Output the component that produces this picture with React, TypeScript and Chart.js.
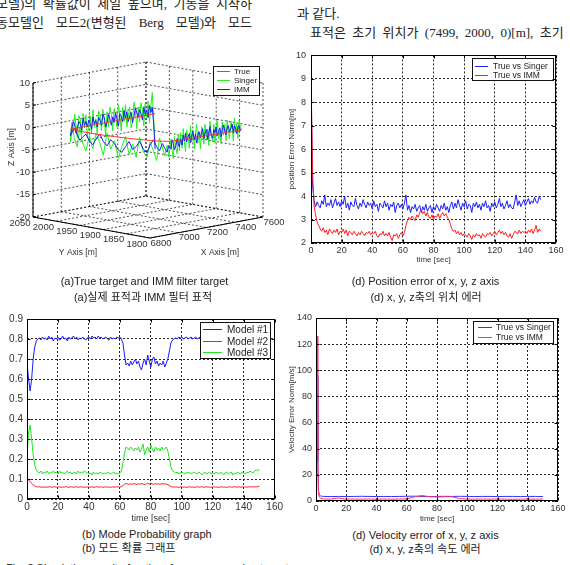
import React, { useEffect, useRef } from "react";
import { Chart, registerables } from "chart.js";
Chart.register(...registerables);

const FONT = "'Liberation Sans', Arial, Helvetica, sans-serif";
const CJK = "'Liberation Sans', 'Noto Sans CJK KR', sans-serif";
const SERIF_CJK = "'Liberation Serif', 'Noto Sans CJK KR', serif";

const BLUE = "#1c1cff";
const RED = "#ff1f1f";
const GREEN = "#1fe61f";

// ---------- data ----------
const SAMPLE_STEP = 1; // seconds between samples
const timeTicks = [0, 20, 40, 60, 80, 100, 120, 140, 160];

const posSinger = [
  8.9, 4.5, 3.8, 3.55, 3.75, 3.6, 3.5, 3.8, 3.65, 4.05,
  3.55, 3.7, 3.6, 3.85, 3.5, 3.7, 3.9, 3.6, 3.75, 3.55,
  3.8, 3.65, 4.0, 3.5, 3.7, 3.4, 3.75, 3.6, 3.55, 3.9,
  3.6, 3.45, 3.7, 3.55, 3.85, 3.65, 3.5, 3.75, 3.6, 3.7,
  3.45, 3.8, 3.55, 3.65, 3.35, 3.7, 3.6, 3.5, 3.8, 3.55,
  3.7, 3.4, 3.65, 3.55, 3.75, 3.3, 3.6, 3.7, 3.5, 3.65,
  3.45, 3.7, 4.05, 3.4, 3.6, 3.3, 3.55, 3.45, 3.65, 3.35,
  3.5, 3.6, 3.3, 3.55, 3.4, 3.65, 3.35, 3.5, 3.6, 3.3,
  3.55, 3.4, 3.65, 3.5, 3.35, 3.6, 3.45, 3.7, 3.4, 3.55,
  3.3, 3.6, 3.75, 3.45, 3.7, 3.5, 3.85, 3.6, 3.4, 3.7,
  3.55, 3.8, 3.45, 3.65, 3.6, 3.3, 3.7, 3.55, 3.75, 3.5,
  3.65, 3.4, 3.7, 3.55, 3.8, 3.5, 3.6, 3.35, 3.7, 3.55,
  3.75, 3.5, 3.65, 3.9, 3.55, 3.7, 3.45, 3.6, 3.8, 3.5,
  3.65, 3.5, 3.45, 3.75, 4.05, 3.6, 3.8, 3.55, 3.7, 3.85,
  3.6, 3.75, 3.9, 3.65, 3.8, 3.7, 3.95, 3.75, 3.7, 4.0,
  3.85,
];
const posIMM = [
  9.3, 5.0, 3.6, 3.2, 2.9, 2.75, 2.6, 2.5, 2.65, 2.45,
  2.55, 2.35, 2.6, 2.5, 2.4, 2.55, 2.45, 2.6, 2.35, 2.5,
  2.45, 2.6, 2.4, 2.55, 2.3, 2.5, 2.45, 2.35, 2.5, 2.4,
  2.3, 2.45, 2.35, 2.5, 2.4, 2.3, 2.45, 2.4, 2.5, 2.35,
  2.45, 2.4, 2.5, 2.3, 2.25, 2.4, 2.35, 2.5, 2.3, 2.4,
  2.3, 2.45, 2.25, 2.1, 2.35, 2.3, 2.4, 2.2, 2.35, 2.45,
  2.3, 2.45, 2.75, 2.95, 3.1, 3.0, 3.15, 3.05, 2.95, 3.2,
  3.1, 3.3, 3.4, 3.25, 3.35, 3.15, 3.3, 3.1, 3.05, 3.2,
  3.0, 3.15, 3.1, 3.25, 3.05, 3.2, 3.3, 3.15, 3.25, 3.1,
  3.0, 2.8, 2.6, 2.5, 2.55, 2.4, 2.5, 2.35, 2.45, 2.3,
  2.4, 2.35, 2.25, 2.4, 2.3, 2.15, 2.35, 2.25, 2.4, 2.3,
  2.35, 2.2, 2.4, 2.3, 2.25, 2.4, 2.35, 2.45, 2.3, 2.4,
  2.5, 2.35, 2.45, 2.55, 2.4, 2.5, 2.35, 2.45, 2.3, 2.25,
  2.4, 2.2, 2.35, 2.5, 2.45, 2.4, 2.55, 2.4, 2.5, 2.45,
  2.5, 2.4, 2.55, 2.45, 2.6, 2.4, 2.55, 2.75, 2.45, 2.6,
  2.5,
];

const modeModel1 = [
  0.68, 0.6, 0.54, 0.6, 0.7, 0.76, 0.79, 0.8, 0.805, 0.795,
  0.81, 0.8, 0.805, 0.795, 0.815, 0.8, 0.81, 0.79, 0.805, 0.8,
  0.81, 0.795, 0.8, 0.815, 0.8, 0.805, 0.79, 0.81, 0.8, 0.805,
  0.815, 0.8, 0.81, 0.795, 0.805, 0.8, 0.81, 0.8, 0.795, 0.805,
  0.81, 0.8, 0.815, 0.805, 0.81, 0.8, 0.815, 0.805, 0.81, 0.8,
  0.805, 0.81, 0.8, 0.795, 0.81, 0.8, 0.805, 0.8, 0.81, 0.805,
  0.81, 0.8, 0.78, 0.72, 0.67, 0.68, 0.665, 0.69, 0.67, 0.685,
  0.7, 0.675, 0.69, 0.66, 0.645, 0.68, 0.7, 0.67, 0.72, 0.69,
  0.66, 0.7, 0.71, 0.675, 0.69, 0.665, 0.68, 0.67, 0.69, 0.66,
  0.68, 0.7, 0.74, 0.78, 0.795, 0.8, 0.805, 0.8, 0.81, 0.805,
  0.81, 0.8, 0.805, 0.81, 0.8, 0.805, 0.81, 0.8, 0.805, 0.81,
  0.8, 0.805, 0.81, 0.8, 0.805, 0.81, 0.8, 0.805, 0.81, 0.8,
  0.805, 0.81, 0.8, 0.81, 0.805, 0.8, 0.81, 0.805, 0.8, 0.81,
  0.805, 0.8, 0.81, 0.805, 0.8, 0.81, 0.805, 0.8, 0.81, 0.805,
  0.8, 0.81, 0.805, 0.8, 0.81, 0.8, 0.805, 0.8, 0.795, 0.8,
  0.79,
];
const modeModel2 = [
  0.1, 0.095, 0.088, 0.078, 0.07, 0.065, 0.062, 0.06, 0.061, 0.059,
  0.06, 0.058, 0.061, 0.059, 0.06, 0.062, 0.058, 0.06, 0.061, 0.059,
  0.06, 0.061, 0.058, 0.06, 0.059, 0.062, 0.06, 0.058, 0.061, 0.06,
  0.059, 0.06, 0.062, 0.058, 0.06, 0.061, 0.059, 0.06, 0.058, 0.061,
  0.06, 0.059, 0.061, 0.058, 0.06, 0.062, 0.059, 0.06, 0.061, 0.058,
  0.06, 0.061, 0.059, 0.06, 0.058, 0.061, 0.06, 0.059, 0.062, 0.06,
  0.059, 0.062, 0.068, 0.074, 0.077, 0.075, 0.073, 0.076, 0.074, 0.077,
  0.075, 0.073, 0.076, 0.074, 0.078, 0.075, 0.072, 0.076, 0.079, 0.074,
  0.08, 0.075, 0.073, 0.077, 0.074, 0.076, 0.073, 0.077, 0.075, 0.076,
  0.074, 0.072, 0.067, 0.062, 0.06, 0.061, 0.059, 0.06, 0.058, 0.06,
  0.061, 0.059, 0.06, 0.058, 0.06, 0.061, 0.059, 0.06, 0.058, 0.06,
  0.061, 0.059, 0.06, 0.062, 0.058, 0.06, 0.061, 0.059, 0.06, 0.058,
  0.06, 0.061, 0.059, 0.06, 0.058, 0.06, 0.061, 0.059, 0.06, 0.058,
  0.06, 0.061, 0.059, 0.06, 0.062, 0.059, 0.06, 0.061, 0.059, 0.06,
  0.061, 0.06, 0.059, 0.061, 0.06, 0.062, 0.06, 0.061, 0.06, 0.062,
  0.063,
];
const modeModel3 = [
  0.22, 0.33, 0.37, 0.3, 0.22, 0.17, 0.145, 0.135, 0.13, 0.14,
  0.125, 0.135, 0.13, 0.14, 0.125, 0.135, 0.13, 0.14, 0.13, 0.135,
  0.125, 0.14, 0.13, 0.135, 0.125, 0.13, 0.14, 0.13, 0.135, 0.125,
  0.13, 0.135, 0.125, 0.14, 0.13, 0.135, 0.13, 0.14, 0.135, 0.13,
  0.125, 0.13, 0.12, 0.135, 0.125, 0.13, 0.125, 0.135, 0.13, 0.125,
  0.13, 0.125, 0.135, 0.13, 0.125, 0.13, 0.135, 0.125, 0.13, 0.125,
  0.13, 0.14, 0.18, 0.23, 0.26, 0.255, 0.245, 0.26, 0.25, 0.24,
  0.255, 0.245, 0.26, 0.235, 0.25, 0.275, 0.22, 0.245, 0.26, 0.235,
  0.27, 0.25, 0.235, 0.26, 0.245, 0.255, 0.24, 0.26, 0.245, 0.25,
  0.26, 0.24, 0.2, 0.16, 0.14, 0.135, 0.13, 0.135, 0.125, 0.13,
  0.135, 0.13, 0.125, 0.135, 0.13, 0.135, 0.125, 0.13, 0.135, 0.13,
  0.125, 0.135, 0.13, 0.12, 0.13, 0.135, 0.125, 0.13, 0.135, 0.125,
  0.13, 0.125, 0.135, 0.13, 0.125, 0.135, 0.13, 0.12, 0.13, 0.135,
  0.125, 0.13, 0.135, 0.12, 0.13, 0.125, 0.135, 0.13, 0.125, 0.135,
  0.13, 0.125, 0.135, 0.13, 0.14, 0.135, 0.13, 0.14, 0.145, 0.14,
  0.15,
];

const velTime = [
  0.9, 1.2, 1.6, 2.2, 3, 4, 5,
  10, 15, 20, 25, 30, 35, 40, 45, 50, 55, 60, 65, 70, 75,
  80, 85, 90, 95, 100, 105, 110, 115, 120, 125, 130, 135, 140, 145, 150,
];
const velSinger = [
  96, 30, 8, 4.6, 3.9, 3.6, 3.5,
  3.4, 3.5, 3.4, 3.5, 3.6, 3.5, 3.4, 3.5, 3.4, 3.5, 3.6, 3.7, 3.5, 3.4,
  3.5, 3.6, 3.5, 3.6, 3.5, 3.4, 3.5, 3.5, 3.4, 3.5, 3.5, 3.4, 3.5, 3.5, 3.4,
];
const velIMM = [
  126, 35, 6, 3.0, 2.2, 1.8, 1.6,
  1.5, 2.3, 1.4, 1.5, 1.4, 1.5, 1.4, 1.5, 1.4, 1.5, 1.6, 3.1, 4.2, 3.3,
  3.0, 3.3, 3.2, 1.8, 1.5, 1.4, 1.5, 1.4, 1.5, 1.4, 1.3, 1.4, 1.5, 1.4, 1.5,
];

// 3-D trajectory, one sample per second (t = 0 … 150)
const trueX = [
  7499, 7489, 7479, 7469, 7459, 7449, 7439, 7429, 7419, 7409,
  7399, 7389, 7379, 7369, 7359, 7349, 7339, 7329, 7319, 7309,
  7299, 7289, 7279, 7269, 7259, 7249, 7239, 7229, 7219, 7209,
  7199, 7189, 7179, 7169, 7159, 7149, 7139, 7129, 7119, 7109,
  7099, 7089, 7079, 7069, 7059, 7049, 7039, 7029, 7019, 7009,
  6999, 6989, 6979, 6969, 6959, 6949, 6939, 6929, 6919, 6909,
  6899, 6897, 6895, 6894, 6893, 6893, 6893, 6894, 6895, 6896,
  6898, 6900, 6903, 6906, 6910, 6914, 6918, 6922, 6927, 6932,
  6937, 6942, 6948, 6954, 6960, 6966, 6973, 6980, 6987, 6994,
  7001, 7007, 7015, 7023, 7031, 7039, 7047, 7055, 7063, 7071,
  7079, 7087, 7095, 7103, 7111, 7119, 7127, 7135, 7143, 7151,
  7159, 7167, 7175, 7183, 7191, 7199, 7207, 7215, 7223, 7231,
  7239, 7247, 7255, 7263, 7271, 7279, 7287, 7295, 7303, 7311,
  7319, 7327, 7335, 7343, 7351, 7359, 7367, 7375, 7383, 7391,
  7399, 7407, 7415, 7423, 7431, 7439, 7447, 7455, 7463, 7471,
  7479,
];
const trueY = [
  2000, 2000, 2000, 2000, 2000, 2000, 2000, 2000, 2000, 2000,
  2000, 2000, 2000, 2000, 2000, 2000, 2000, 2000, 2000, 2000,
  2000, 2000, 2000, 2000, 2000, 2000, 2000, 2000, 2000, 2000,
  2000, 2000, 2000, 2000, 2000, 2000, 2000, 2000, 2000, 2000,
  2000, 2000, 2000, 2000, 2000, 2000, 2000, 2000, 2000, 2000,
  2000, 2000, 2000, 2000, 2000, 2000, 2000, 2000, 2000, 2000,
  2000, 1995, 1990, 1984, 1978, 1972, 1965, 1958, 1951, 1944,
  1937, 1930, 1923, 1916, 1909, 1902, 1896, 1889, 1883, 1877,
  1871, 1865, 1859, 1853, 1848, 1843, 1838, 1834, 1830, 1827,
  1824, 1822, 1820, 1820, 1820, 1820, 1819, 1819, 1819, 1819,
  1819, 1818, 1818, 1818, 1818, 1818, 1817, 1817, 1817, 1817,
  1817, 1816, 1816, 1816, 1816, 1816, 1815, 1815, 1815, 1815,
  1815, 1814, 1814, 1814, 1814, 1814, 1813, 1813, 1813, 1813,
  1813, 1812, 1812, 1812, 1812, 1812, 1811, 1811, 1811, 1811,
  1811, 1810, 1810, 1810, 1810, 1810, 1810, 1810, 1810, 1810,
  1810,
];
const TRUE_Z = 0;
const immZ = [
  -8, -2.5, 1.5, 0.4, 2.0, -0.6, 1.1, 0.3, 1.8, -0.9,
  0.6, 1.5, -0.2, 0.9, 2.1, 0.2, -1.1, 1.3, 0.5, -0.7,
  1.6, 0.2, 1.9, -0.5, 0.8, 1.4, -1.3, 0.4, 1.8, -0.3,
  1.0, -0.8, 0.6, 1.7, 0.1, -1.0, 1.2, 2.0, -0.4, 0.7,
  1.5, -0.6, 0.9, 0.2, 1.8, -0.9, 0.5, 1.3, -0.2, 1.1,
  0.3, 1.9, -0.7, 0.8, 1.4, 0.0, -1.1, 1.0, 1.6, 0.2,
  -1.5, -0.3, 0.5, -0.9, -2.0, -1.2, -0.4, -1.8, -2.5, -1.1,
  0.1, -1.4, -2.3, -0.8, -1.6, -2.9, -3.3, -1.9, -0.7, -2.4,
  -1.7, -0.4, -2.1, -2.8, -1.0, 0.2, -1.3, -2.2, -0.5, -1.6,
  -2.4, -0.9, -1.7, 0.3, -0.6, -2.0, -1.1, 0.4, -0.8, -1.5,
  0.2, -1.2, 0.9, -0.4, 1.3, -0.7, 0.6, 1.1, -1.0, 0.3,
  1.5, -0.5, 0.8, -1.3, 0.4, 1.2, -0.2, 0.9, 1.7, -0.6,
  0.5, 1.4, -0.9, 0.7, 1.9, 0.1, -0.8, 1.1, 0.4, 1.6,
  -0.4, 0.8, 1.3, -0.7, 0.6, 1.8, 0.2, -0.5, 1.0, 1.5,
  0.0, 0.9, 1.7, -0.3, 1.2, 0.5, -0.6, 0.8, 1.1, -0.2,
  0.4,
];
const singerZ = [
  -7, -1.5, 4.8, 2.0, -1.8, 3.1, -0.5, 2.6, -2.3, 1.4,
  3.0, -1.2, 2.2, -2.6, 1.7, 3.4, -0.8, -2.2, 2.5, 0.6,
  -1.9, 3.2, -0.4, 2.7, -2.5, 1.1, 3.5, -1.4, 0.9, 2.8,
  -2.1, 1.6, 3.3, -1.0, 2.4, -2.7, 0.5, 3.1, -1.6, 2.0,
  2.9, -2.0, 1.3, -0.6, 3.4, -1.8, 2.2, 0.1, -2.4, 2.6,
  -0.3, 3.0, -1.5, 1.8, 2.7, -2.2, 0.7, 3.2, -1.0, 1.5,
  -2.8, 0.4, -1.9, -3.6, 0.8, -2.5, -4.2, -0.6, -3.4, 0.2,
  -1.8, -4.5, 0.6, -2.9, -0.9, -4.8, -2.0, 0.3, -3.7, -1.2,
  -4.1, 0.5, -2.6, -3.9, -0.4, -2.2, -4.4, 0.7, -1.5, -3.2,
  -0.8, -3.6, 0.4, -2.1, -4.0, 1.0, -1.7, -3.0, 1.2, -2.4,
  1.6, -1.9, 2.4, -0.6, -2.8, 2.0, 0.3, -2.2, 2.7, -0.9,
  1.8, -2.5, 0.6, 2.9, -1.4, 1.1, -2.7, 2.2, 0.4, -1.8,
  2.6, -0.7, 1.5, -2.3, 3.1, 0.2, -1.6, 2.3, -2.0, 1.3,
  3.0, -1.1, 0.8, -2.4, 2.5, -0.5, 1.9, -1.8, 2.8, 0.1,
  -1.5, 2.4, 0.9, -2.1, 2.9, -0.3, 1.6, -1.7, 2.2, 0.5,
  1.2,
];
const xTicks3 = [6800, 7000, 7200, 7400, 7600];
const yTicks3 = [1800, 1850, 1900, 1950, 2000, 2050];
const zTicks3 = [-20, -15, -10, -5, 0, 5, 10];

// ---------- helpers ----------
const times = (n: number, step: number) => Array.from({ length: n }, (_, i) => i * step);

function lineDs(label: string, color: string, xs: number[], ys: number[]) {
  return {
    label,
    data: ys.map((v, i) => ({ x: xs[i], y: v })),
    borderColor: color,
    backgroundColor: color,
    borderWidth: 1,
    pointRadius: 0,
    tension: 0,
    showLine: true,
    fill: false,
  };
}

function drawLegend(chart: any, L: any) {
  const ctx = chart.ctx;
  const ca = chart.chartArea;
  const x2 = Math.round(ca.right - L.right);
  const x1 = x2 - L.w;
  const y1 = Math.round(ca.top + L.top);
  ctx.save();
  ctx.setLineDash([]);
  ctx.fillStyle = "#fff";
  ctx.fillRect(x1, y1, L.w, L.h);
  ctx.strokeStyle = "#111";
  ctx.lineWidth = 1;
  ctx.strokeRect(x1 + 0.5, y1 + 0.5, L.w, L.h);
  ctx.font = `${L.size}px ${FONT}`;
  ctx.textBaseline = "middle";
  ctx.textAlign = "left";
  L.order.forEach((di: number, k: number) => {
    const ds = chart.data.datasets[di];
    const y = Math.round(y1 + L.first + k * L.rowH) + 0.5;
    ctx.strokeStyle = ds.borderColor;
    ctx.beginPath();
    ctx.moveTo(x1 + L.s1, y);
    ctx.lineTo(x1 + L.s2, y);
    ctx.stroke();
    ctx.fillStyle = "#222";
    ctx.fillText(ds.label, x1 + L.tx, y + 0.5);
  });
  ctx.restore();
}

const framePlugin = {
  id: "matFrame",
  afterDatasetsDraw(chart: any, _a: any, o: any) {
    if (o && o.legend) drawLegend(chart, o.legend);
  },
  afterDraw(chart: any, _a: any, o: any) {
    if (!o || !o.frame) return;
    const ctx = chart.ctx;
    const ca = chart.chartArea;
    ctx.save();
    ctx.setLineDash([]);
    ctx.strokeStyle = "#000";
    ctx.lineWidth = 1;
    const l = Math.round(ca.left) + 0.5;
    const t = Math.round(ca.top) + 0.5;
    const r = Math.round(ca.right) - 0.5;
    const b = Math.round(ca.bottom) - 0.5;
    ctx.strokeRect(l, t, r - l, b - t);
    const xs = chart.scales.x;
    const ys = chart.scales.y;
    ctx.beginPath();
    xs.ticks.forEach((tk: any) => {
      const p = Math.round(xs.getPixelForValue(tk.value)) + 0.5;
      ctx.moveTo(p, b); ctx.lineTo(p, b - 3);
      ctx.moveTo(p, t); ctx.lineTo(p, t + 3);
    });
    ys.ticks.forEach((tk: any) => {
      const p = Math.round(ys.getPixelForValue(tk.value)) + 0.5;
      ctx.moveTo(l, p); ctx.lineTo(l + 3, p);
      ctx.moveTo(r, p); ctx.lineTo(r - 3, p);
    });
    ctx.stroke();
    ctx.restore();
  },
};

function cfg2d(p: any) {
  return {
    type: "scatter",
    data: { datasets: p.datasets },
    plugins: [framePlugin],
    options: {
      animation: false,
      responsive: false,
      devicePixelRatio: 1,
      events: [],
      layout: { padding: { top: p.padTop, right: p.padRight, left: 0, bottom: 0 } },
      plugins: {
        legend: { display: false },
        tooltip: { enabled: false },
        matFrame: { frame: true, legend: p.legend },
      },
      scales: {
        x: {
          type: "linear",
          min: 0,
          max: 160,
          afterFit: (s: any) => { s.height = p.xH; },
          afterBuildTicks: (s: any) => { s.ticks = timeTicks.map((v) => ({ value: v })); },
          ticks: { font: { family: FONT, size: p.tick }, color: "#333", padding: p.xPad, maxRotation: 0, autoSkip: false },
          grid: { color: "rgba(0,0,0,0.85)", lineWidth: 1, drawTicks: false },
          border: { display: false, dash: [2, 2] },
          title: { display: true, text: "time [sec]", font: { family: FONT, size: p.titleSize }, color: "#333", padding: { top: 0, bottom: p.xTitlePad } },
        },
        y: {
          type: "linear",
          min: p.yMin,
          max: p.yMax,
          afterFit: (s: any) => { s.width = p.yW; },
          afterBuildTicks: (s: any) => { s.ticks = p.yTicks.map((v: number) => ({ value: v })); },
          ticks: { font: { family: FONT, size: p.tick }, color: "#333", padding: p.yPad, autoSkip: false, callback: (v: any) => String(Math.round(v * 10) / 10) },
          grid: { color: "rgba(0,0,0,0.85)", lineWidth: 1, drawTicks: false },
          border: { display: false, dash: [2, 2] },
          title: p.yTitle
            ? { display: true, text: p.yTitle, font: { family: FONT, size: p.titleSize }, color: "#333", padding: { top: p.yTitlePad, bottom: 0 } }
            : { display: false },
        },
      },
    },
  };
}

// 3-D projection (page pixels)
function proj(X: number, Y: number, Z: number) {
  const u = (X - 6800) / 800;
  const v = (2050 - Y) / 250;
  const w = (Z + 20) / 30;
  return { x: 33 + 113 * u + 117 * v, y: 217 - 21 * u + 21 * v - 134 * w };
}

const box3dPlugin = {
  id: "box3d",
  beforeDatasetsDraw(chart: any) {
    const ctx = chart.ctx;
    const sx = chart.scales.x;
    const sy = chart.scales.y;
    const P = (X: number, Y: number, Z: number) => {
      const p = proj(X, Y, Z);
      return [sx.getPixelForValue(p.x), sy.getPixelForValue(p.y)];
    };
    const seg = (a: number[], b: number[]) => { ctx.moveTo(a[0], a[1]); ctx.lineTo(b[0], b[1]); };
    ctx.save();
    ctx.strokeStyle = "rgba(0,0,0,0.7)";
    ctx.lineWidth = 1;
    ctx.setLineDash([2, 2]);
    ctx.beginPath();
    xTicks3.forEach((X) => seg(P(X, 2050, -20), P(X, 2050, 10)));
    zTicks3.forEach((Z) => seg(P(6800, 2050, Z), P(7600, 2050, Z)));
    yTicks3.forEach((Y) => seg(P(7600, Y, -20), P(7600, Y, 10)));
    zTicks3.forEach((Z) => seg(P(7600, 2050, Z), P(7600, 1800, Z)));
    xTicks3.forEach((X) => seg(P(X, 2050, -20), P(X, 1800, -20)));
    yTicks3.forEach((Y) => seg(P(6800, Y, -20), P(7600, Y, -20)));
    ctx.stroke();
    ctx.setLineDash([]);
    ctx.strokeStyle = "#000";
    ctx.beginPath();
    seg(P(6800, 2050, -20), P(6800, 2050, 10));
    seg(P(6800, 2050, -20), P(6800, 1800, -20));
    seg(P(6800, 1800, -20), P(7600, 1800, -20));
    zTicks3.forEach((Z) => { const a = P(6800, 2050, Z); seg(a, [a[0] + 3, a[1] - 0.5]); });
    ctx.stroke();
    ctx.fillStyle = "#333";
    ctx.font = `9.5px ${FONT}`;
    ctx.textBaseline = "middle";
    ctx.textAlign = "right";
    zTicks3.forEach((Z) => { const a = P(6800, 2050, Z); ctx.fillText(String(Z), a[0] - 3, a[1]); });
    ctx.textAlign = "center";
    yTicks3.forEach((Y) => { const a = P(6800, Y, -20); ctx.fillText(String(Y), a[0] - 13, a[1] + 6); });
    xTicks3.forEach((X) => { const a = P(X, 1800, -20); ctx.fillText(String(X), a[0] + 11, a[1] + 5); });
    ctx.font = `8.5px ${FONT}`;
    ctx.fillText("Y Axis [m]", sx.getPixelForValue(78), sy.getPixelForValue(253));
    ctx.fillText("X Axis [m]", sx.getPixelForValue(220), sy.getPixelForValue(253));
    ctx.translate(sx.getPixelForValue(12), sy.getPixelForValue(147));
    ctx.rotate(-Math.PI / 2);
    ctx.fillText("Z Axis [m]", 0, 0);
    ctx.restore();
  },
  afterDatasetsDraw(chart: any, _a: any, o: any) {
    if (o && o.legend) drawLegend(chart, o.legend);
  },
};

const C3 = { left: 0, top: 45, w: 290, h: 228 };

function make3d() {
  const pts = (zs: number[] | null) =>
    trueX.map((X, i) => proj(X, trueY[i], zs ? zs[i] : TRUE_Z));
  const ds = (label: string, color: string, data: any[]) => ({
    label, data, borderColor: color, backgroundColor: color, borderWidth: 1,
    pointRadius: 0, showLine: true, tension: 0, clip: false,
  });
  return {
    type: "scatter",
    data: {
      datasets: [
        ds("True", "#ff3030", pts(null)),
        ds("IMM", "#1c1cff", pts(immZ)),
        ds("Singer", "#22ee22", pts(singerZ)),
      ],
    },
    plugins: [box3dPlugin],
    options: {
      animation: false,
      responsive: false,
      devicePixelRatio: 1,
      events: [],
      layout: { padding: 0 },
      plugins: {
        legend: { display: false },
        tooltip: { enabled: false },
        box3d: { legend: { right: 31, top: 21, w: 46, h: 29, first: 5, rowH: 9, s1: 4, s2: 17, tx: 21, size: 8, order: [0, 2, 1] } },
      },
      scales: {
        x: { type: "linear", display: false, min: C3.left, max: C3.left + C3.w },
        y: { type: "linear", display: false, min: C3.top, max: C3.top + C3.h, reverse: true },
      },
    },
  };
}

function makePos() {
  const t = times(posSinger.length, SAMPLE_STEP);
  return cfg2d({
    datasets: [lineDs("True vs IMM", RED, t, posIMM), lineDs("True vs Singer", BLUE, t, posSinger)],
    padTop: 10, padRight: 14, yW: 26, xH: 30,
    yMin: 2, yMax: 10, yTicks: [2, 3, 4, 5, 6, 7, 8, 9, 10],
    tick: 9, titleSize: 8, xPad: 2, yPad: 5, xTitlePad: 8, yTitlePad: 2,
    yTitle: "position Error Norm[m]",
    legend: { right: 3, top: 3, w: 81, h: 22, first: 7.5, rowH: 9, s1: 3, s2: 16, tx: 21, size: 8.5, order: [1, 0] },
  });
}

function makeMode() {
  const t = times(modeModel1.length, SAMPLE_STEP);
  return cfg2d({
    datasets: [
      lineDs("Model #1", BLUE, t, modeModel1),
      lineDs("Model #2", RED, t, modeModel2),
      lineDs("Model #3", GREEN, t, modeModel3),
    ],
    padTop: 14, padRight: 10, yW: 27, xH: 27,
    yMin: 0, yMax: 0.9, yTicks: [0, 0.1, 0.2, 0.3, 0.4, 0.5, 0.6, 0.7, 0.8, 0.9],
    tick: 10, titleSize: 9, xPad: 2, yPad: 4, xTitlePad: 2, yTitlePad: 0,
    yTitle: null,
    legend: { right: 5, top: 3, w: 70, h: 36, first: 7, rowH: 11.5, s1: 3, s2: 22, tx: 27, size: 10, order: [0, 1, 2] },
  });
}

function makeVel() {
  return cfg2d({
    datasets: [lineDs("True vs IMM", "#ff3366", velTime, velIMM), lineDs("True vs Singer", "#3333ff", velTime, velSinger)],
    padTop: 13, padRight: 12, yW: 31, xH: 25,
    yMin: 0, yMax: 140, yTicks: [0, 20, 40, 60, 80, 100, 120, 140],
    tick: 9, titleSize: 8, xPad: 2, yPad: 4, xTitlePad: 2, yTitlePad: 2,
    yTitle: "Velocity Error Norm[m/s]",
    legend: { right: 5, top: 3, w: 80, h: 22, first: 6, rowH: 10, s1: 5, s2: 19, tx: 23, size: 8.5, order: [1, 0] },
  });
}

function ChartCanvas(props: { left: number; top: number; w: number; h: number; make: () => any }) {
  const ref = useRef<HTMLCanvasElement>(null);
  useEffect(() => {
    const c = new Chart(ref.current as HTMLCanvasElement, props.make());
    return () => c.destroy();
  }, []);
  return (
    <canvas
      ref={ref}
      width={props.w}
      height={props.h}
      style={{ position: "absolute", left: props.left, top: props.top, width: props.w, height: props.h }}
    />
  );
}

function Txt(props: { x: number; y: number; size: number; font: string; w?: number; align?: string; justify?: boolean; children: any; color?: string }) {
  const { x, y, size, font, w, align, justify, children, color } = props;
  const lh = Math.round(size * 1.3);
  return (
    <div
      style={{
        position: "absolute",
        left: x,
        top: y - lh / 2,
        width: w,
        fontSize: size,
        lineHeight: `${lh}px`,
        fontFamily: font,
        color: color || "#222",
        whiteSpace: "nowrap",
        textAlign: (justify ? "justify" : align || "left") as any,
        textAlignLast: (justify ? "justify" : undefined) as any,
      }}
    >
      {children}
    </div>
  );
}

export default function App() {
  return (
    <div style={{ position: "absolute", left: 0, top: 0, width: 570, height: 565, overflow: "hidden", background: "#fff" }}>
      <Txt x={-4} y={3} size={13} font={SERIF_CJK} w={256} justify>모델)의 확률값이 제일 높으며, 기동을 시작하</Txt>
      <Txt x={-4} y={22} size={13} font={SERIF_CJK} w={256} justify>동모델인 모드2(변형된 Berg 모델)와 모드</Txt>
      <Txt x={297} y={13} size={13} font={SERIF_CJK}>과 같다.</Txt>
      <Txt x={310} y={32} size={13} font={SERIF_CJK} w={272} justify>표적은 초기 위치가 (7499, 2000, 0)[m], 초기 속</Txt>

      <ChartCanvas left={C3.left} top={C3.top} w={C3.w} h={C3.h} make={make3d} />
      <ChartCanvas left={285} top={45} w={285} h={228} make={makePos} />
      <ChartCanvas left={0} top={305} w={285} h={221} make={makeMode} />
      <ChartCanvas left={285} top={305} w={285} h={221} make={makeVel} />

      <Txt x={0} y={281} size={11} font={FONT} w={289} align="center">(a)True target and IMM filter target</Txt>
      <Txt x={0} y={297} size={11} font={CJK} w={286} align="center">(a)실제 표적과 IMM 필터 표적</Txt>
      <Txt x={281} y={281} size={11} font={FONT} w={289} align="center">(d) Position error of x, y, z axis</Txt>
      <Txt x={281} y={297} size={11} font={CJK} w={290} align="center">(d) x, y, z축의 위치 에러</Txt>
      <Txt x={82} y={534} size={11} font={FONT}>(b) Mode Probability graph</Txt>
      <Txt x={82} y={548} size={11} font={CJK}>(b) 모드 확률 그래프</Txt>
      <Txt x={281} y={535} size={11} font={FONT} w={289} align="center">(d) Velocity error of x, y, z axis</Txt>
      <Txt x={281} y={549} size={11} font={CJK} w={288} align="center">(d) x, y, z축의 속도 에러</Txt>
      <Txt x={6} y={568} size={11} font={FONT}>Fig. 3  Simulation result of anti-surface maneuvering target</Txt>
    </div>
  );
}
